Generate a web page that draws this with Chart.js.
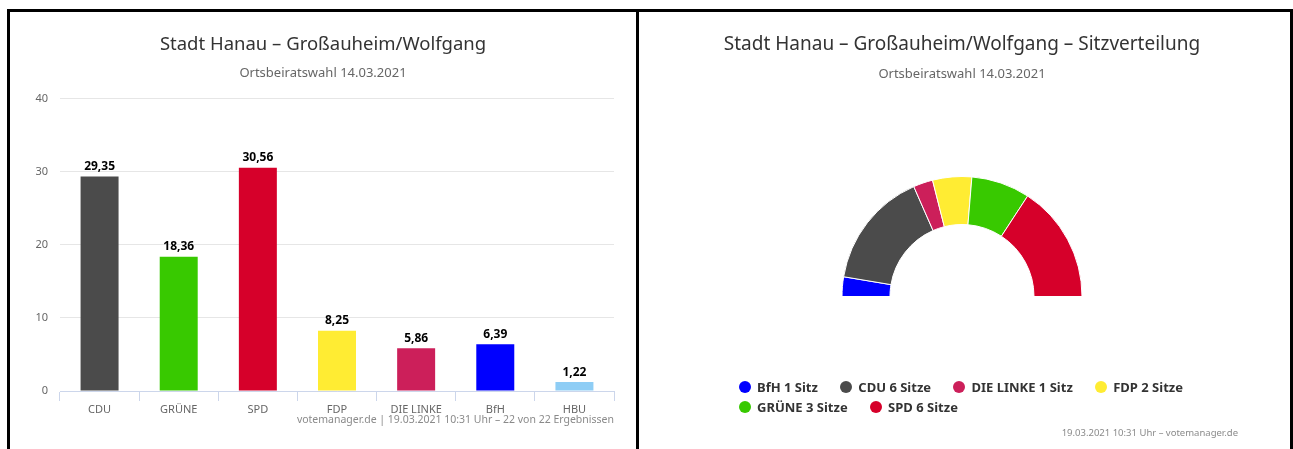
<!DOCTYPE html>
<html lang="de">
<head>
<meta charset="utf-8">
<title>Stadt Hanau – Großauheim/Wolfgang</title>
<script src="https://cdn.jsdelivr.net/npm/chart.js@4.4.1/dist/chart.umd.min.js"></script>
<style>
  body { margin: 0; width: 1293px; height: 449px; background: #fff; position: relative; overflow: hidden; font-family: "Noto Sans", sans-serif; }
  .line { position: absolute; background: #000; }
  canvas { position: absolute; }
  .credits { position: absolute; color: #8a8a8a; font-size: 10.5px; line-height: 14px; white-space: nowrap; }
  #legend { position: absolute; left: 739px; top: 377px; width: 500px; font-weight: bold; font-size: 13px; color: #333; }
  .item { display: inline-flex; align-items: center; margin-right: 19px; height: 20px; vertical-align: top; }
  .dot { width: 12px; height: 12px; border-radius: 50%; margin-right: 6px; }
</style>
</head>
<body>
<div class="line" style="left:7px;top:9px;width:1286px;height:3px"></div>
<div class="line" style="left:7px;top:9px;width:3px;height:440px"></div>
<div class="line" style="left:636px;top:9px;width:3px;height:440px"></div>
<div class="line" style="left:1290px;top:9px;width:3px;height:440px"></div>

<canvas id="voteChart" width="626" height="437" style="left:10px;top:12px"></canvas>
<canvas id="seatChart" width="651" height="437" style="left:639px;top:12px"></canvas>

<div class="credits" style="right:679px;top:412px">votemanager.de | 19.03.2021 10:31 Uhr – 22 von 22 Ergebnissen</div>
<div id="legend"></div>
<div class="credits" style="right:55px;top:426px;font-size:9.5px">19.03.2021 10:31 Uhr – votemanager.de</div>

<script>
// ===== Data =====
const parties = ["CDU", "GRÜNE", "SPD", "FDP", "DIE LINKE", "BfH", "HBU"];
const voteShare = [29.35, 18.36, 30.56, 8.25, 5.86, 6.39, 1.22];
const partyColors = ["#4b4b4b", "#38c900", "#d6002a", "#ffec33", "#cc1f5a", "#0000ff", "#8ecdf5"];
const yMin = 0;
const yMax = 40;
const yStep = 10;

const seatParties = ["BfH", "CDU", "DIE LINKE", "FDP", "GRÜNE", "SPD"];
const seats = [1, 6, 1, 2, 3, 6];
const seatColors = ["#0000ff", "#4b4b4b", "#cc1f5a", "#ffec33", "#38c900", "#d6002a"];

const titleText = "Stadt Hanau – Großauheim/Wolfgang";
const subtitleText = "Ortsbeiratswahl 14.03.2021";

Chart.defaults.font.family = "'Noto Sans', sans-serif";
Chart.defaults.animation = false;

// value labels on top of the bars (german decimal comma)
const valueLabels = {
  id: "valueLabels",
  afterDatasetsDraw(chart) {
    const ctx = chart.ctx;
    const meta = chart.getDatasetMeta(0);
    ctx.save();
    ctx.font = "bold 12px 'Noto Sans'";
    ctx.fillStyle = "#000";
    ctx.textAlign = "center";
    ctx.textBaseline = "bottom";
    meta.data.forEach((bar, i) => {
      ctx.fillText(voteShare[i].toFixed(2).replace(".", ","), bar.x, bar.y - 4);
    });
    ctx.restore();
  }
};

// ===== Bar chart =====
new Chart(document.getElementById("voteChart"), {
  type: "bar",
  data: {
    labels: parties,
    datasets: [{
      data: voteShare,
      backgroundColor: partyColors,
      categoryPercentage: 1,
      barPercentage: 0.48
    }]
  },
  options: {
    responsive: false,
    // symmetric padding keeps the title centred in the panel
    layout: { padding: { left: 22, right: 22 } },
    plugins: {
      legend: { display: false },
      tooltip: { enabled: false },
      title: {
        display: true, text: titleText, color: "#333",
        font: { size: 18.5, weight: "normal" },
        padding: { top: 21.7, bottom: 0 }
      },
      subtitle: {
        display: true, text: subtitleText, color: "#666",
        font: { size: 13 },
        padding: { top: 10, bottom: 17.2 }
      }
    },
    scales: {
      x: {
        grid: { drawOnChartArea: false, drawTicks: true, tickLength: 10, color: "#ccd6eb", offset: true },
        border: { color: "#ccd6eb" },
        ticks: { color: "#666", font: { size: 11 }, padding: 2, maxRotation: 0, autoSkip: false },
        afterFit(scale) { scale.height = 58; }
      },
      y: {
        min: yMin, max: yMax,
        ticks: { stepSize: yStep, color: "#666", font: { size: 11 }, padding: 12 },
        grid: { color: "#e6e6e6", drawTicks: false },
        border: { display: false },
        afterFit(scale) { scale.width = 28; }
      }
    }
  },
  plugins: [valueLabels]
});

// ===== Seat distribution (half doughnut) =====
new Chart(document.getElementById("seatChart"), {
  type: "doughnut",
  data: {
    labels: seatParties,
    datasets: [{
      data: seats,
      backgroundColor: seatColors,
      borderColor: "#fff",
      borderWidth: 1
    }]
  },
  options: {
    responsive: false,
    rotation: -90,
    circumference: 180,
    cutout: "60%",
    radius: 120,
    layout: { padding: { bottom: 67, right: 5 } },
    plugins: {
      legend: { display: false },
      tooltip: { enabled: false },
      title: {
        display: true, text: titleText + " – Sitzverteilung", color: "#333",
        font: { size: 19, weight: "normal" },
        padding: { top: 21.4, bottom: 0 }
      },
      subtitle: {
        display: true, text: subtitleText, color: "#666",
        font: { size: 13 },
        padding: { top: 10, bottom: 9.2 }
      }
    }
  }
});

// legend like the original (rows left aligned)
const legendEl = document.getElementById("legend");
legendEl.innerHTML = seatParties.map((p, i) => `
  <span class="item"><span class="dot" style="background:${seatColors[i]}"></span>${p} ${seats[i]} ${seats[i] === 1 ? "Sitz" : "Sitze"}</span>`
).join("");
</script>
</body>
</html>
